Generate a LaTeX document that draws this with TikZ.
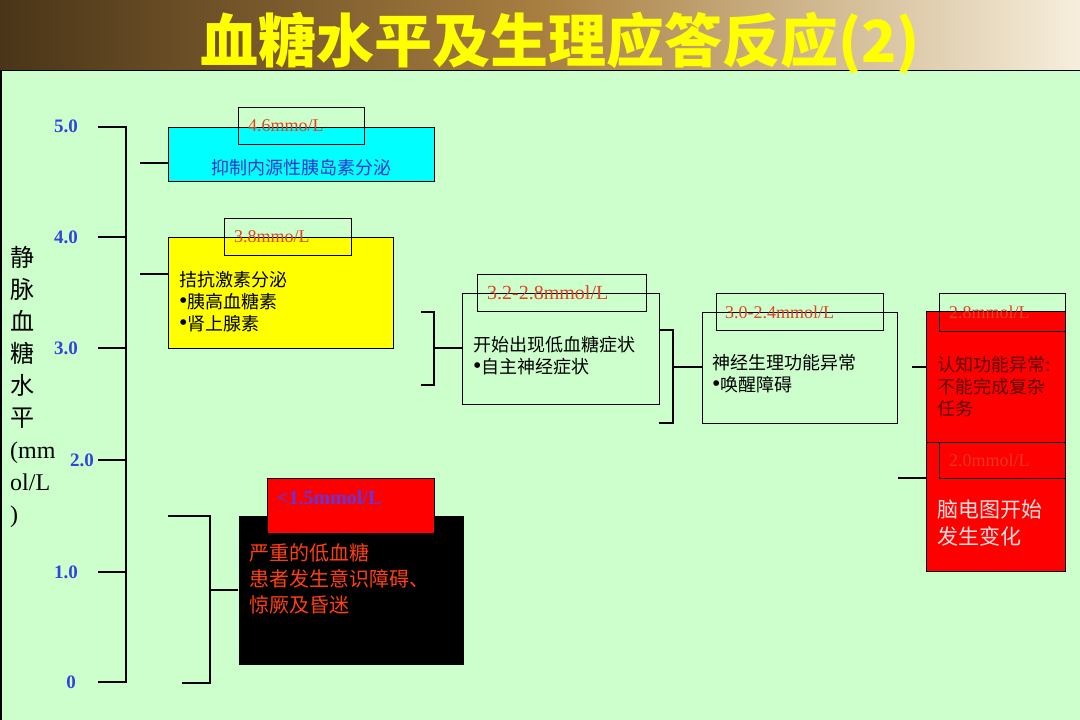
\documentclass[tikz,border=0pt]{standalone}
\usepackage{fontspec}
\setmainfont{Liberation Serif}
\newfontfamily\cjk{Noto Sans CJK SC}
\usetikzlibrary{positioning}

\definecolor{panelgreen}{HTML}{CCFFCC}
\definecolor{titledark}{HTML}{4A3518}
\definecolor{titlemid}{HTML}{A87E40}
\definecolor{titlelight}{HTML}{F6EEDC}
\definecolor{titleyellow}{HTML}{FFFF00}
\definecolor{boxcyan}{HTML}{00FFFF}
\definecolor{boxyellow}{HTML}{FFFF00}
\definecolor{boxred}{HTML}{FF0000}
\definecolor{tickblue}{HTML}{3344DD}
\definecolor{valred}{HTML}{DD4422}
\definecolor{valdim}{HTML}{E83818}
\definecolor{valpurple}{HTML}{6633DD}
\definecolor{cyantext}{HTML}{3333CC}
\definecolor{cogtext}{HTML}{5A0000}
\definecolor{eegtext}{HTML}{FFE0E0}
\definecolor{severetext}{HTML}{FF4010}

\newcommand{\dotmark}{{\rmfamily\fontsize{24}{22}\selectfont\textbullet}}

\begin{document}
\begin{tikzpicture}[x=1pt, y=-1pt,
        box/.style={draw, line width=1pt, anchor=north west, inner sep=0pt},
        tag/.style={draw, line width=1pt, anchor=north west, inner sep=0pt},
        val/.style={font=\fontsize{18}{18}\selectfont, text=valred, inner sep=0pt, anchor=west},
        note/.style={font=\cjk\fontsize{18}{22}\selectfont, align=left, inner sep=0pt, anchor=west},
        tick/.style={font=\bfseries\fontsize{19}{19}\selectfont, text=tickblue, inner sep=0pt, anchor=east},
        link/.style={line width=1.2pt},
        axis/.style={line width=2pt}
    ]
        \useasboundingbox (0,0) rectangle (1080,720);

        % Title band and panel
        \shade[left color=titledark, right color=titlemid] (0,0) rectangle (540,70);
        \shade[left color=titlemid, right color=titlelight] (540,0) rectangle (1080,70);
        \fill[panelgreen] (0,70) rectangle (1080,720);
        \draw[line width=1.5pt] (1,720) -- (1,70.5) -- (1080,70.5);
        \node[font=\cjk\bfseries\fontsize{58}{58}\selectfont, text=titleyellow] (title) at (560,43) {血糖水平及生理应答反应(2)};

        % Glucose axis
        \coordinate (axtop) at (98,127);
        \coordinate (axbot) at (98,682);
        \draw[axis] (axtop) -- (126,127) -- (126,682) -- (axbot);
        \foreach \y in {237,348,460,572} \draw[link] (98,\y) -- (126,\y);
        \foreach \v/\x/\y in {5.0/78/126, 4.0/78/237, 3.0/78/348, 2.0/94/460, 1.0/78/572, 0/76/682}
            \node[tick] (lab\y) at (\x,\y) {\v};
        \node[anchor=north west, align=left, inner sep=0pt, font=\fontsize{24}{32}\selectfont] (ylab) at (10,246)
            {{\cjk 静}\\{\cjk 脉}\\{\cjk 血}\\{\cjk 糖}\\{\cjk 水}\\{\cjk 平}\\(mm\\ol/L\\)};

        % Boxes
        \node[box, fill=boxcyan, minimum width=266pt, minimum height=54pt] (inhibit) at (168,127) {};
        \node[tag, minimum width=126pt, minimum height=37pt] (t46) at (238,107) {};
        \node[box, fill=boxyellow, minimum width=225pt, minimum height=111pt] (antag) at (168,237) {};
        \node[tag, minimum width=127pt, minimum height=37pt] (t38) at (224,218) {};
        \node[box, minimum width=197pt, minimum height=111pt] (onset) at (462,293) {};
        \node[tag, minimum width=169pt, minimum height=37pt] (t32) at (477,274) {};
        \node[box, minimum width=195pt, minimum height=111pt] (arousal) at (702,312) {};
        \node[tag, minimum width=167pt, minimum height=37pt] (t30) at (716,293) {};
        \node[box, fill=boxred, minimum width=139pt, minimum height=131pt] (cognit) at (926,311) {};
        \node[box, fill=boxred, minimum width=139pt, minimum height=129pt] (eeg) at (926,442) {};
        \node[tag, minimum width=126pt, minimum height=38pt] (t28) at (939,293) {};
        \node[tag, minimum width=126pt, minimum height=36pt] (t20) at (939,442) {};
        \node[box, draw=none, fill=black, minimum width=225pt, minimum height=149pt] (severe) at (238,515) {};
        \node[tag, fill=boxred, minimum width=167pt, minimum height=55pt] (t15) at (267,478) {};

        % Threshold values
        \node[val, right=10pt of t46.west] (v46) {4.6mmo/L};
        \node[val, right=10pt of t38.west] (v38) {3.8mmo/L};
        \node[val, font=\fontsize{20}{20}\selectfont, right=10pt of t32.west] (v32) {3.2-2.8mmol/L};
        \node[val, right=9pt of t30.west] (v30) {3.0-2.4mmol/L};
        \node[val, right=10pt of t28.west] (v28) {2.8mmol/L};
        \node[val, text=valdim, right=10pt of t20.west] (v20) {2.0mmol/L};
        \node[val, font=\bfseries\fontsize{20}{20}\selectfont, text=valpurple] (v15) at ([shift={(10,20)}]t15.north west) {<1.5mmol/L};

        % Box texts
        \node[note, anchor=center, text=cyantext] (inhibit-txt) at (301,168) {抑制内源性胰岛素分泌};
        \node[note] (antag-txt) at (179,302) {拮抗激素分泌\\\dotmark 胰高血糖素\\\dotmark 肾上腺素};
        \node[note] (onset-txt) at (473,356) {开始出现低血糖症状\\\dotmark 自主神经症状};
        \node[note] (arousal-txt) at (712,374) {神经生理功能异常\\\dotmark 唤醒障碍};
        \node[note, text=cogtext] (cognit-txt) at (937,387) {认知功能异常:\\不能完成复杂\\任务};
        \node[note, font=\cjk\fontsize{21}{27}\selectfont, text=eegtext] (eeg-txt) at (937,523) {脑电图开始\\发生变化};
        \node[note, font=\cjk\fontsize{20}{26}\selectfont, text=severetext] (severe-txt) at (249,579) {严重的低血糖\\患者发生意识障碍、\\惊厥及昏迷};

        % Connectors
        \coordinate (c1) at (140,163);
        \draw[link] (c1) -- (c1 -| inhibit.west);
        \coordinate (c2) at (140,274);
        \draw[link] (c2) -- (c2 -| antag.west);
        \coordinate (b1t) at (421,312);
        \coordinate (b1b) at (421,385);
        \coordinate (b1m) at (434,348);
        \draw[link] (b1t) -| (b1m) |- (b1b);
        \draw[link] (b1m) -- (b1m -| onset.west);
        \coordinate (b2t) at (659,330);
        \coordinate (b2b) at (659,423);
        \coordinate (b2m) at (673,367);
        \draw[link] (b2t) -| (b2m) |- (b2b);
        \draw[link] (b2m) -- (b2m -| arousal.west);
        \coordinate (c4) at (912,367);
        \draw[link] (c4) -- (c4 -| cognit.west);
        \coordinate (c5) at (898,478);
        \draw[link] (c5) -- (c5 -| eeg.west);
        \coordinate (b3t) at (168,516);
        \coordinate (b3b) at (182,683);
        \coordinate (b3m) at (210,590);
        \draw[axis] (b3t) -| (b3m) |- (b3b);
        \draw[axis] (b3m) -- (b3m -| severe.west);
    \end{tikzpicture}
\end{document}
